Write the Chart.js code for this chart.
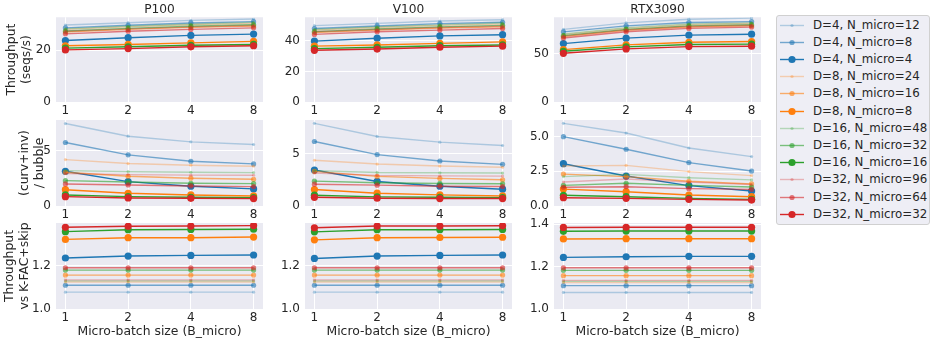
<!DOCTYPE html>
<html>
<head>
<meta charset="utf-8">
<script src="https://cdn.jsdelivr.net/npm/chart.js@4.4.1/dist/chart.umd.min.js"></script>
<style>
  body { margin: 0; background: #ffffff; }
  #page { position: relative; width: 934px; height: 344px; font-family: "DejaVu Sans"; color: #262626; }
  #page canvas { position: absolute; }
  #legend {
    position: absolute; left: 776px; top: 15px; width: 152px; height: 208px;
    border: 1px solid #d0d0d0; border-radius: 3px; background: #eeeef5;
  }
  .item { position: absolute; left: 0; height: 17px; line-height: 17px; font-size: 11.8px; white-space: nowrap; }
  .item svg { position: absolute; left: 3px; top: 3px; }
  .item span { position: absolute; left: 36px; top: 0; }
</style>
</head>
<body>
<div id="page"><div id="legend"></div></div>
<script>
let microBatch = [1, 2, 4, 8];
let gpus = ["P100", "V100", "RTX3090"];
let seriesNames = [
  "D=4, N_micro=12", "D=4, N_micro=8", "D=4, N_micro=4",
  "D=8, N_micro=24", "D=8, N_micro=16", "D=8, N_micro=8",
  "D=16, N_micro=48", "D=16, N_micro=32", "D=16, N_micro=16",
  "D=32, N_micro=96", "D=32, N_micro=64", "D=32, N_micro=32"
];

// throughput (seqs/s)
let throughputP100 = [
  [29.7, 30.6, 31.5, 32.0], [28.6, 29.6, 30.5, 31.0], [23.7, 24.8, 25.7, 26.2],
  [28.0, 29.0, 29.8, 30.3], [27.0, 28.0, 28.8, 29.3], [21.7, 22.2, 22.8, 23.4],
  [28.2, 29.2, 30.0, 30.7], [27.4, 28.4, 29.2, 29.8], [20.8, 21.3, 21.9, 22.2],
  [27.3, 28.2, 29.0, 29.5], [26.3, 27.3, 28.0, 28.6], [20.1, 20.6, 21.3, 21.7]
];
let throughputV100 = [
  [49.9, 51.4, 52.9, 53.8], [48.0, 49.7, 51.2, 52.1], [39.8, 41.7, 43.2, 44.0],
  [47.0, 48.7, 50.1, 50.9], [45.4, 47.0, 48.4, 49.2], [36.5, 37.3, 38.3, 39.3],
  [47.4, 49.1, 50.4, 51.6], [46.0, 47.7, 49.1, 50.1], [34.9, 35.8, 36.8, 37.3],
  [45.9, 47.4, 48.7, 49.6], [44.2, 45.9, 47.0, 48.0], [33.8, 34.6, 35.8, 36.5]
];
let throughputRTX = [
  [75.0, 81.7, 85.5, 86.6], [72.4, 78.6, 82.0, 83.0], [60.3, 65.9, 69.0, 70.0],
  [69.5, 76.0, 79.8, 81.0], [67.5, 74.0, 77.5, 78.7], [54.1, 59.0, 61.7, 62.4],
  [70.2, 76.8, 80.5, 81.7], [68.5, 75.0, 78.6, 79.8], [52.4, 56.9, 59.3, 59.7],
  [68.0, 74.5, 78.0, 79.2], [66.0, 72.5, 76.0, 77.3], [50.3, 54.8, 57.2, 57.6]
];

// (curv+inv) / bubble
let bubbleP100 = [
  [7.48, 6.33, 5.82, 5.58], [5.76, 4.64, 4.06, 3.82], [3.15, 2.21, 1.79, 1.55],
  [4.21, 3.85, 3.70, 3.61], [3.06, 2.70, 2.52, 2.42], [1.48, 1.15, 1.00, 0.91],
  [3.21, 3.12, 3.06, 3.03], [2.30, 2.18, 2.06, 2.03], [1.00, 0.85, 0.79, 0.76],
  [2.94, 2.85, 2.80, 2.79], [2.00, 1.91, 1.82, 1.76], [0.85, 0.73, 0.70, 0.67]
];
let bubbleV100 = [
  [7.88, 6.63, 6.09, 5.77], [6.15, 4.90, 4.29, 3.97], [3.43, 2.34, 1.89, 1.60],
  [4.36, 4.00, 3.81, 3.69], [3.30, 2.82, 2.63, 2.50], [1.57, 1.22, 1.06, 0.96],
  [3.37, 3.20, 3.17, 3.14], [2.37, 2.21, 2.15, 2.12], [1.03, 0.87, 0.83, 0.80],
  [3.14, 2.92, 2.87, 2.85], [2.08, 1.99, 1.89, 1.86], [0.83, 0.74, 0.71, 0.71]
];
let bubbleRTX = [
  [5.96, 5.26, 4.18, 3.56], [5.00, 4.09, 3.13, 2.52], [3.05, 2.16, 1.47, 1.08],
  [2.88, 2.93, 2.48, 2.19], [2.30, 2.12, 1.78, 1.59], [1.22, 1.03, 0.79, 0.67],
  [2.12, 2.28, 2.04, 1.88], [1.49, 1.64, 1.49, 1.37], [0.77, 0.67, 0.55, 0.48],
  [1.73, 1.95, 1.72, 1.55], [1.35, 1.39, 1.25, 1.20], [0.60, 0.55, 0.48, 0.43]
];

// throughput vs K-FAC+skip
let speedupP100 = [
  [1.078, 1.078, 1.078, 1.078], [1.110, 1.110, 1.110, 1.110], [1.236, 1.245, 1.248, 1.250],
  [1.125, 1.125, 1.125, 1.125], [1.157, 1.157, 1.157, 1.157], [1.322, 1.330, 1.330, 1.333],
  [1.130, 1.130, 1.130, 1.130], [1.180, 1.180, 1.180, 1.180], [1.358, 1.367, 1.368, 1.369],
  [1.135, 1.135, 1.135, 1.135], [1.191, 1.191, 1.191, 1.191], [1.378, 1.383, 1.384, 1.386]
];
let speedupV100 = [
  [1.078, 1.078, 1.078, 1.078], [1.110, 1.110, 1.110, 1.110], [1.234, 1.245, 1.248, 1.250],
  [1.125, 1.125, 1.125, 1.125], [1.157, 1.157, 1.157, 1.157], [1.320, 1.330, 1.331, 1.332],
  [1.130, 1.130, 1.130, 1.130], [1.180, 1.180, 1.180, 1.180], [1.357, 1.367, 1.367, 1.368],
  [1.135, 1.135, 1.135, 1.135], [1.191, 1.191, 1.191, 1.191], [1.376, 1.384, 1.384, 1.385]
];
let speedupRTX = [
  [1.078, 1.078, 1.078, 1.078], [1.110, 1.110, 1.110, 1.110], [1.243, 1.246, 1.248, 1.248],
  [1.125, 1.125, 1.125, 1.125], [1.157, 1.157, 1.157, 1.157], [1.330, 1.331, 1.331, 1.331],
  [1.130, 1.130, 1.130, 1.130], [1.182, 1.182, 1.182, 1.182], [1.366, 1.367, 1.367, 1.367],
  [1.135, 1.135, 1.135, 1.135], [1.194, 1.194, 1.194, 1.194], [1.384, 1.385, 1.385, 1.385]
];

let throughputTicks = [[0, 20], [0, 20, 40], [0, 50]];
let bubbleTicks = [[0, 5], [0, 5], [0, 2.5, 5]];
let speedupTicks = [[1.0, 1.2], [1.0, 1.2], [1.0, 1.2, 1.4]];
let throughputRange = [[0, 32.7], [0, 55.4], [0, 87.5]];
let bubbleRange = [[0, 7.8], [0, 8.2], [0, 6.2]];
let speedupRange = [[1.0, 1.398], [1.0, 1.398], [1.0, 1.405]];
let rowTitles = [["Throughput", "(seqs/s)"], ["(curv+inv)", "/ bubble"], ["Throughput", "vs K-FAC+skip"]];
let xTitle = "Micro-batch size (B_micro)";

// styles
const baseColors = ["31,119,180", "255,127,14", "44,160,44", "214,39,40"];
const alphas = [0.3, 0.6, 1.0];
const radii = [1.6, 2.6, 3.6];
const lineWidth = 1.4;
const textColor = "#262626";
const font = "DejaVu Sans";

// layout (pixels)
const plotLeft = [56, 305, 554];
const plotTop = [17, 120, 223];
const plotW = 207;
const plotH = [85, 86, 86];
const yAxisW = [[52, 39, 54], 42, 42];
const rightPad = 6;

function seriesColor(i) {
  return "rgba(" + baseColors[Math.floor(i / 3)] + "," + alphas[i % 3] + ")";
}

const bgPlugin = {
  id: "bg",
  beforeDraw(chart) {
    const a = chart.chartArea;
    const ctx = chart.ctx;
    ctx.save();
    ctx.fillStyle = "#eaeaf2";
    ctx.fillRect(a.left, a.top, a.right - a.left, a.bottom - a.top);
    ctx.restore();
  }
};

function fmt(list) {
  let dec = list.some(v => Math.round(v) !== v) ? 1 : 0;
  return v => Number(v).toFixed(dec);
}

function makePanel(row, col, values, tickList, range) {
  const yW = col === 0 ? yAxisW[0][row] : yAxisW[col];
  const topSpace = row === 0 ? 17 : 8;
  const xH = row === 2 ? 31 : 16;
  const canvas = document.createElement("canvas");
  canvas.width = yW + plotW + rightPad;
  canvas.height = topSpace + plotH[row] + xH;
  canvas.style.left = (plotLeft[col] - yW) + "px";
  canvas.style.top = (plotTop[row] - topSpace) + "px";
  document.getElementById("page").appendChild(canvas);

  const datasets = seriesNames.map((name, i) => ({
    label: name,
    data: values[i].map((v, k) => ({ x: Math.log2(microBatch[k]), y: v })),
    borderColor: seriesColor(i),
    backgroundColor: seriesColor(i),
    borderWidth: lineWidth,
    pointRadius: radii[i % 3],
    pointBorderWidth: 0,
    tension: 0,
    order: 11 - i
  }));

  const yFmt = fmt(tickList);

  new Chart(canvas, {
    type: "line",
    data: { datasets: datasets },
    plugins: [bgPlugin],
    options: {
      responsive: false,
      animation: false,
      devicePixelRatio: 1,
      events: [],
      layout: { padding: { top: row === 0 ? 0 : 8, right: rightPad, left: 0, bottom: 0 } },
      plugins: {
        legend: { display: false },
        tooltip: { enabled: false },
        title: {
          display: row === 0,
          text: gpus[col],
          fullSize: false,
          color: textColor,
          font: { family: font, size: 12.2, weight: "normal", lineHeight: 1.2 },
          padding: { top: 2.6, bottom: 0 }
        }
      },
      scales: {
        x: {
          type: "linear",
          min: -0.15,
          max: 3.15,
          afterBuildTicks: ax => { ax.ticks = microBatch.map(b => ({ value: Math.log2(b) })); },
          afterFit: ax => { ax.height = xH; ax.paddingLeft = 0; ax.paddingRight = 0; },
          ticks: {
            padding: 2,
            color: textColor,
            font: { family: font, size: 12, lineHeight: 1.2 },
            callback: v => String(Math.pow(2, v)),
            maxRotation: 0
          },
          grid: { color: "#ffffff", lineWidth: 1, drawTicks: false },
          border: { display: false },
          title: {
            display: row === 2,
            text: xTitle,
            color: textColor,
            font: { family: font, size: 12.4, lineHeight: 1.25 },
            padding: 0
          }
        },
        y: {
          type: "linear",
          min: range[0],
          max: range[1],
          afterBuildTicks: ax => { ax.ticks = tickList.map(v => ({ value: v })); },
          afterFit: ax => { ax.width = yW; ax.paddingTop = 0; ax.paddingBottom = 0; },
          ticks: {
            padding: 5,
            color: textColor,
            font: { family: font, size: 12, lineHeight: 1.2 },
            callback: v => yFmt(v)
          },
          grid: { color: "#ffffff", lineWidth: 1, drawTicks: false },
          border: { display: false },
          title: {
            display: col === 0,
            text: rowTitles[row],
            color: textColor,
            font: { family: font, size: 12.4, lineHeight: 1.25 },
            padding: 0
          }
        }
      }
    }
  });
}

function renderPanels() {
  const rows = [
    [throughputP100, throughputV100, throughputRTX, throughputTicks, throughputRange],
    [bubbleP100, bubbleV100, bubbleRTX, bubbleTicks, bubbleRange],
    [speedupP100, speedupV100, speedupRTX, speedupTicks, speedupRange]
  ];
  rows.forEach((r, row) => {
    for (let col = 0; col < 3; col++) {
      makePanel(row, col, r[col], r[3][col], r[4][col]);
    }
  });
}

function renderLegend() {
  const legend = document.getElementById("legend");
  let html = "";
  seriesNames.forEach((name, i) => {
    const c = seriesColor(i);
    html += '<div class="item" style="top:' + (0.5 + i * 17.2) + 'px">' +
      '<svg width="26" height="11"><line x1="0" y1="5.5" x2="24" y2="5.5" stroke="' + c + '" stroke-width="' + lineWidth + '"/>' +
      '<circle cx="12" cy="5.5" r="' + radii[i % 3] + '" fill="' + c + '"/></svg>' +
      '<span>' + name + '</span></div>';
  });
  legend.innerHTML = html;
}

renderPanels();
renderLegend();
</script>
</body>
</html>
